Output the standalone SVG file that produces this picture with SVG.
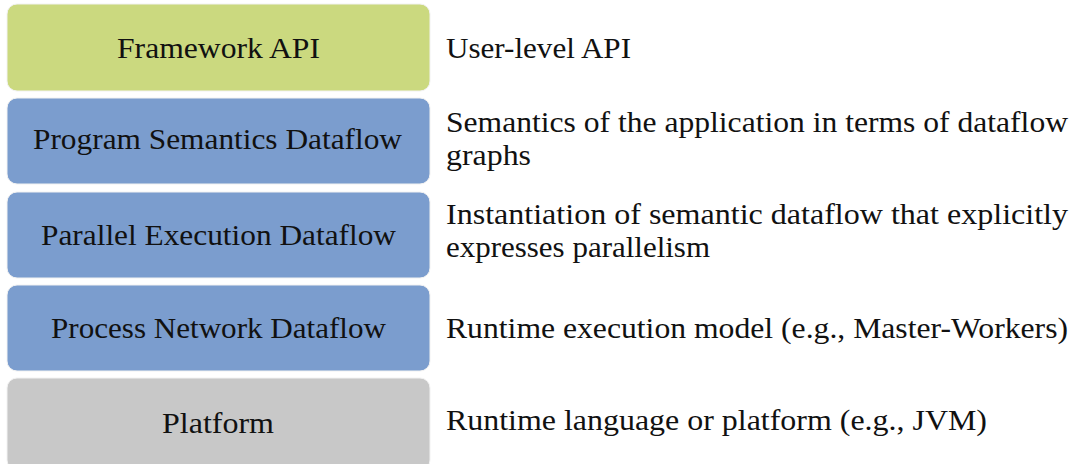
<svg xmlns="http://www.w3.org/2000/svg" width="1076" height="464" viewBox="0 0 1076 464">
<defs>
<style>
.box{stroke:#f2f2f2;stroke-width:1}
.g{fill:#cbd97f}
.b{fill:#7b9dce}
.p{fill:#c8c8c8}
.c{text-anchor:middle}
</style>
</defs>
<rect width="1076" height="464" fill="#ffffff"/>
<g font-family="Liberation Serif, serif" font-size="30" fill="#111">
<g id="framework">
<rect class="box g" x="7" y="4" width="423" height="87" rx="10"/>
<text class="c" x="218.5" y="58" textLength="203" lengthAdjust="spacingAndGlyphs">Framework API</text>
</g>
<g id="program">
<rect class="box b" x="7" y="98" width="423" height="86" rx="10"/>
<text class="c" x="217.5" y="149" textLength="369" lengthAdjust="spacingAndGlyphs">Program Semantics Dataflow</text>
</g>
<g id="parallel">
<rect class="box b" x="7" y="192" width="423" height="86" rx="10"/>
<text class="c" x="218.5" y="245" textLength="355" lengthAdjust="spacingAndGlyphs">Parallel Execution Dataflow</text>
</g>
<g id="process">
<rect class="box b" x="7" y="285" width="423" height="86" rx="10"/>
<text class="c" x="218.5" y="338" textLength="335" lengthAdjust="spacingAndGlyphs">Process Network Dataflow</text>
</g>
<g id="platform">
<rect class="box p" x="7" y="378" width="423" height="92" rx="10"/>
<text class="c" x="218" y="433" textLength="112" lengthAdjust="spacingAndGlyphs">Platform</text>
</g>
<g id="descriptions">
<text x="446" y="58" textLength="185" lengthAdjust="spacingAndGlyphs">User-level API</text>
<text x="446" y="132" textLength="622" lengthAdjust="spacingAndGlyphs">Semantics of the application in terms of dataflow</text>
<text x="446" y="165" textLength="85" lengthAdjust="spacingAndGlyphs">graphs</text>
<text x="446" y="224" textLength="622" lengthAdjust="spacingAndGlyphs">Instantiation of semantic dataflow that explicitly</text>
<text x="446" y="257" textLength="264" lengthAdjust="spacingAndGlyphs">expresses parallelism</text>
<text x="446" y="338" textLength="622" lengthAdjust="spacingAndGlyphs">Runtime execution model (e.g., Master-Workers)</text>
<text x="446" y="430" textLength="541" lengthAdjust="spacingAndGlyphs">Runtime language or platform (e.g., JVM)</text>
</g>
</g>
<g id="connectors"></g>
</svg>
